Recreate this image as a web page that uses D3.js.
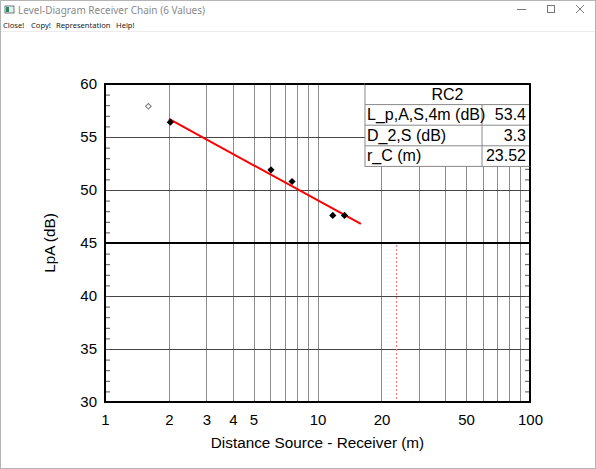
<!DOCTYPE html>
<html>
<head>
<meta charset="utf-8">
<script src="https://cdn.jsdelivr.net/npm/d3@7"></script>
<style>
  body { margin: 0; background: #fff; }
  svg { display: block; }
</style>
</head>
<body>
<div id="chart"></div>
<script>
// measured values (distance in m, level in dB)
const measDist = [2.03, 6.04, 7.59, 11.8, 13.4];
const measLevel = [56.4, 51.9, 50.8, 47.6, 47.6];
// point not used in the fit
const skipDist = [1.6];
const skipLevel = [57.9];
// regression line end points
const fitDist = [2, 16];
const fitLevel = [56.7, 46.8];
const refLevel = 45;
const rC = 23.52;

const tableTitle = "RC2";
const tableLabels = ["L_p,A,S,4m (dB)", "D_2,S (dB)", "r_C (m)"];
const tableValues = ["53.4", "3.3", "23.52"];

const xTicks = [1, 2, 3, 4, 5, 10, 20, 50, 100];
const xGrid = [2, 3, 4, 5, 6, 7, 8, 9, 10, 20, 30, 40, 50, 60, 70, 80, 90];
const yTicks = [30, 35, 40, 45, 50, 55, 60];
const yGrid = [35, 40, 50, 55];

const menuItems = ["Close!", "Copy!", "Representation", "Help!"];
const menuX = [3, 31, 56, 116];

const W = 596, H = 469;
const margin = {top: 84, right: 66, bottom: 67, left: 105};
const width = W - margin.left - margin.right,
      height = H - margin.top - margin.bottom;
const font = "Liberation Sans, Arial, sans-serif";

const svg = d3.select("#chart").append("svg")
  .attr("width", W).attr("height", H);

// window chrome
svg.append("rect").attr("x", 0.5).attr("y", 0.5).attr("width", W - 1).attr("height", H - 1)
  .attr("fill", "#fff").attr("stroke", "#b4b4b4");
svg.append("rect").attr("x", 5).attr("y", 6).attr("width", 9).attr("height", 7)
  .attr("fill", "#e8eef0").attr("stroke", "#6a7a80");
svg.append("rect").attr("x", 6).attr("y", 7).attr("width", 3).attr("height", 5).attr("fill", "#2a8a5a");
svg.append("text").attr("x", 18).attr("y", 14)
  .attr("font-family", "Noto Sans, sans-serif").attr("font-size", 10)
  .attr("fill", "#8a8a8a").text("Level-Diagram Receiver Chain (6 Values)");
svg.append("line").attr("x1", 517).attr("x2", 526).attr("y1", 9.5).attr("y2", 9.5).attr("stroke", "#777");
svg.append("rect").attr("x", 547.5).attr("y", 5.5).attr("width", 7).attr("height", 7)
  .attr("fill", "none").attr("stroke", "#777");
svg.append("path").attr("d", "M576,5L584,13M584,5L576,13").attr("stroke", "#777");
svg.selectAll(".menu").data(menuItems).enter().append("text")
  .attr("x", (d, i) => menuX[i]).attr("y", 28)
  .attr("font-family", "Noto Sans, sans-serif").attr("font-size", 7.6)
  .attr("fill", "#222").text(d => d);
svg.append("line").attr("x1", 1).attr("x2", W - 1).attr("y1", 31.5).attr("y2", 31.5).attr("stroke", "#ececec");

const g = svg.append("g").attr("transform", `translate(${margin.left},${margin.top})`);

const x = d3.scaleLog().domain([1, 100]).range([0, width]);
const y = d3.scaleLinear().domain([30, 60]).range([height, 0]);

// vertical grid
g.selectAll(".vg").data(xGrid).enter().append("line")
  .attr("x1", d => Math.round(x(d)) + 0.5).attr("x2", d => Math.round(x(d)) + 0.5)
  .attr("y1", 0).attr("y2", height)
  .attr("stroke", "#8c8c8c").attr("stroke-width", 1);

// horizontal grid
g.selectAll(".hg").data(yGrid).enter().append("line")
  .attr("x1", 0).attr("x2", width)
  .attr("y1", d => Math.round(y(d)) + 0.5).attr("y2", d => Math.round(y(d)) + 0.5)
  .attr("stroke", "#444").attr("stroke-width", 1);

// minor ticks every 1 dB, inside on both sides
const minor = d3.range(31, 60);
g.append("g").call(d3.axisRight(y).tickValues(minor).tickSize(5).tickFormat(""))
  .call(a => a.select(".domain").remove())
  .call(a => a.selectAll("line").attr("stroke", "#555"));
g.append("g").attr("transform", `translate(${width},0)`)
  .call(d3.axisLeft(y).tickValues(minor).tickSize(5).tickFormat(""))
  .call(a => a.select(".domain").remove())
  .call(a => a.selectAll("line").attr("stroke", "#555"));

// reference level
g.append("line").attr("x1", 0).attr("x2", width)
  .attr("y1", y(refLevel)).attr("y2", y(refLevel))
  .attr("stroke", "#000").attr("stroke-width", 2.2);

// critical distance marker
g.append("line").attr("x1", x(rC)).attr("x2", x(rC))
  .attr("y1", y(refLevel) + 2).attr("y2", height)
  .attr("stroke", "#ff7070").attr("stroke-width", 1).attr("stroke-dasharray", "2,2");

// frame
g.append("rect").attr("width", width).attr("height", height)
  .attr("fill", "none").attr("stroke", "#000").attr("stroke-width", 2);

// axes labels
const xAxis = g.append("g").attr("transform", `translate(0,${height})`)
  .call(d3.axisBottom(x).tickValues(xTicks).tickSize(0).tickPadding(12).tickFormat(d3.format("d")));
xAxis.select(".domain").remove();
xAxis.selectAll("text").attr("font-family", font)
  .attr("font-size", 15).attr("fill", "#000");

const yAxis = g.append("g")
  .call(d3.axisLeft(y).tickValues(yTicks).tickSize(0).tickPadding(8));
yAxis.select(".domain").remove();
yAxis.selectAll("text").attr("font-family", font)
  .attr("font-size", 15).attr("fill", "#000");

svg.append("text").attr("x", margin.left + width / 2).attr("y", 448)
  .attr("text-anchor", "middle").attr("font-family", font)
  .attr("font-size", 15.3).text("Distance Source - Receiver (m)");
svg.append("text").attr("transform", `translate(55,${margin.top + y(refLevel)}) rotate(-90)`)
  .attr("text-anchor", "middle").attr("font-family", font)
  .attr("font-size", 15.3).text("LpA (dB)");

// fit line
g.append("path").datum(fitDist.map((d, i) => [d, fitLevel[i]]))
  .attr("d", d3.line().x(d => x(d[0])).y(d => y(d[1])))
  .attr("stroke", "#f00").attr("stroke-width", 2).attr("fill", "none");

// points
const diamond = d3.symbol().type(d3.symbolSquare).size(26);
g.selectAll(".pt").data(measDist).enter().append("path")
  .attr("d", diamond)
  .attr("transform", (d, i) => `translate(${x(d)},${y(measLevel[i])}) rotate(45)`)
  .attr("fill", "#000");
g.selectAll(".skip").data(skipDist).enter().append("path")
  .attr("d", d3.symbol().type(d3.symbolSquare).size(16))
  .attr("transform", (d, i) => `translate(${x(d)},${y(skipLevel[i])}) rotate(45)`)
  .attr("fill", "#fff").attr("stroke", "#777").attr("stroke-width", 1);

// result table
const tx = 365 - margin.left, tw = width - tx, rowH = 20.6, colX = 482 - margin.left;
const tbl = g.append("g");
tbl.append("rect").attr("x", tx).attr("y", 0).attr("width", tw).attr("height", rowH * 4)
  .attr("fill", "#fff").attr("stroke", "#888");
tbl.selectAll(".rl").data(tableLabels).enter().append("line")
  .attr("x1", tx).attr("x2", width)
  .attr("y1", (d, i) => rowH * (i + 1)).attr("y2", (d, i) => rowH * (i + 1))
  .attr("stroke", "#888");
tbl.append("line").attr("x1", colX).attr("x2", colX).attr("y1", rowH).attr("y2", rowH * 4)
  .attr("stroke", "#888");
tbl.append("text").attr("x", tx + tw / 2).attr("y", rowH - 5).attr("text-anchor", "middle")
  .attr("font-family", font).attr("font-size", 16).text(tableTitle);
tbl.selectAll(".tl").data(tableLabels).enter().append("text")
  .attr("x", tx + 2).attr("y", (d, i) => rowH * (i + 2) - 5)
  .attr("font-family", font).attr("font-size", 16).text(d => d);
tbl.selectAll(".tv").data(tableValues).enter().append("text")
  .attr("x", width - 4).attr("y", (d, i) => rowH * (i + 2) - 5).attr("text-anchor", "end")
  .attr("font-family", font).attr("font-size", 16).text(d => d);
// frame line over table edges
g.append("line").attr("x1", width).attr("x2", width).attr("y1", 0).attr("y2", rowH * 4)
  .attr("stroke", "#000").attr("stroke-width", 2);
g.append("line").attr("x1", tx).attr("x2", width).attr("y1", 0).attr("y2", 0)
  .attr("stroke", "#000").attr("stroke-width", 2);
</script>
</body>
</html>
